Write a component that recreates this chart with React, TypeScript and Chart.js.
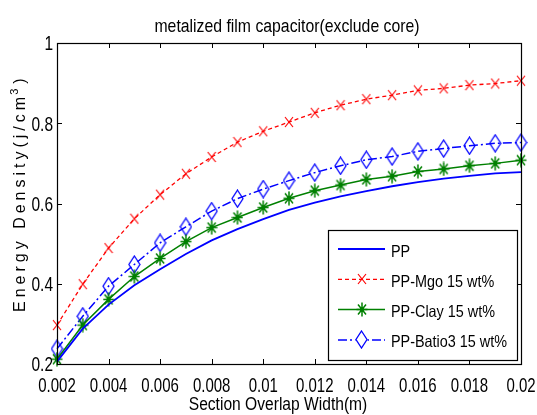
import { useEffect, useRef } from 'react';
import { Chart, registerables } from 'chart.js';

Chart.register(...registerables);

// Section overlap width (m) at which each configuration was evaluated
const overlapWidth = [
  0.002, 0.003, 0.004, 0.005, 0.006, 0.007, 0.008, 0.009, 0.01, 0.011,
  0.012, 0.013, 0.014, 0.015, 0.016, 0.017, 0.018, 0.019, 0.02,
];

// Energy density (J/cm^3) per film material
const ppDensity = [
  0.206, 0.288, 0.348, 0.396, 0.436, 0.474, 0.508, 0.536, 0.561, 0.584,
  0.602, 0.618, 0.631, 0.643, 0.653, 0.662, 0.669, 0.675, 0.678,
];
const mgoDensity = [
  0.297, 0.399, 0.489, 0.562, 0.622, 0.674, 0.716, 0.753, 0.78, 0.803,
  0.826, 0.845, 0.86, 0.87, 0.882, 0.887, 0.895, 0.899, 0.906,
];
const clayDensity = [
  0.212, 0.297, 0.361, 0.418, 0.463, 0.505, 0.54, 0.565, 0.59, 0.613,
  0.632, 0.646, 0.66, 0.668, 0.68, 0.686, 0.694, 0.7, 0.708,
];
const batioDensity = [
  0.238, 0.319, 0.394, 0.448, 0.502, 0.542, 0.581, 0.612, 0.636, 0.657,
  0.677, 0.694, 0.709, 0.717, 0.73, 0.737, 0.744, 0.75, 0.752,
];

const seriesLabels = ['PP', 'PP-Mgo 15 wt%', 'PP-Clay 15 wt%', 'PP-Batio3 15 wt%'];

const xTickValues = [0.002, 0.004, 0.006, 0.008, 0.01, 0.012, 0.014, 0.016, 0.018, 0.02];
const yTickValues = [0.2, 0.4, 0.6, 0.8, 1];

const chartTitle = 'metalized film capacitor(exclude core)';
const xAxisTitle = 'Section Overlap Width(m)';
const yAxisTitleMain = 'Energy Density(j/cm';
const yAxisTitleSup = '3';
const yAxisTitleEnd = ')';

const FONT = '"Liberation Sans", Arial, sans-serif';

const BLUE = '#0000ff';
const RED = '#ff0000';
const GREEN = '#008000';

const fmt = (v: number | string) => String(parseFloat(Number(v).toFixed(4)));

// Text drawn with a vertical stretch so the glyphs come out tall and narrow
function tallText(
  ctx: CanvasRenderingContext2D,
  text: string,
  x: number,
  baseline: number,
  size: number,
  sy: number,
  align: CanvasTextAlign,
) {
  ctx.save();
  ctx.translate(x, baseline);
  ctx.scale(1, sy);
  ctx.font = `${size}px ${FONT}`;
  ctx.textAlign = align;
  ctx.textBaseline = 'alphabetic';
  ctx.fillStyle = '#000';
  ctx.fillText(text, 0, 0);
  ctx.restore();
}

function makeDiamond(color: string) {
  const c = document.createElement('canvas');
  c.width = 13;
  c.height = 19;
  const ctx = c.getContext('2d')!;
  ctx.strokeStyle = color;
  ctx.lineWidth = 1.3;
  ctx.beginPath();
  ctx.moveTo(6.5, 1);
  ctx.lineTo(12, 9.5);
  ctx.lineTo(6.5, 18);
  ctx.lineTo(1, 9.5);
  ctx.closePath();
  ctx.stroke();
  return c;
}

function makeCross(color: string) {
  const c = document.createElement('canvas');
  c.width = 10;
  c.height = 12;
  const ctx = c.getContext('2d')!;
  ctx.strokeStyle = color;
  ctx.lineWidth = 1.2;
  ctx.beginPath();
  ctx.moveTo(1, 1);
  ctx.lineTo(9, 11);
  ctx.moveTo(9, 1);
  ctx.lineTo(1, 11);
  ctx.stroke();
  return c;
}

function makeStar(color: string) {
  const c = document.createElement('canvas');
  c.width = 12;
  c.height = 15;
  const ctx = c.getContext('2d')!;
  ctx.strokeStyle = color;
  ctx.lineWidth = 1.5;
  ctx.beginPath();
  ctx.moveTo(6, 0.5);
  ctx.lineTo(6, 14.5);
  ctx.moveTo(0.5, 7.5);
  ctx.lineTo(11.5, 7.5);
  ctx.moveTo(2, 2.5);
  ctx.lineTo(10, 12.5);
  ctx.moveTo(10, 2.5);
  ctx.lineTo(2, 12.5);
  ctx.stroke();
  ctx.fillStyle = color;
  ctx.beginPath();
  ctx.arc(6, 7.5, 2.2, 0, Math.PI * 2);
  ctx.fill();
  return c;
}

// Axes box with inward tick marks on all four sides, plus the tick labels
const framePlugin = {
  id: 'frameTicks',
  afterDatasetsDraw(chart: any) {
    const { ctx, chartArea: a, scales } = chart;
    const len = 5;
    ctx.save();
    ctx.strokeStyle = '#000';
    ctx.lineWidth = 1;
    ctx.beginPath();
    for (const t of scales.x.ticks) {
      const px = Math.round(scales.x.getPixelForValue(t.value)) + 0.5;
      ctx.moveTo(px, a.bottom);
      ctx.lineTo(px, a.bottom - len);
      ctx.moveTo(px, a.top);
      ctx.lineTo(px, a.top + len);
    }
    for (const t of scales.y.ticks) {
      const py = Math.round(scales.y.getPixelForValue(t.value)) + 0.5;
      ctx.moveTo(a.left, py);
      ctx.lineTo(a.left + len, py);
      ctx.moveTo(a.right, py);
      ctx.lineTo(a.right - len, py);
    }
    ctx.stroke();
    ctx.lineWidth = 1.2;
    ctx.strokeRect(Math.round(a.left) + 0.5, Math.round(a.top) + 0.5, Math.round(a.right - a.left), Math.round(a.bottom - a.top));
    ctx.restore();

    for (const t of scales.x.ticks) {
      tallText(ctx, fmt(t.value), scales.x.getPixelForValue(t.value), a.bottom + 27.5, 15, 1.35, 'center');
    }
    for (const t of scales.y.ticks) {
      tallText(ctx, fmt(t.value), a.left - 4, scales.y.getPixelForValue(t.value) + 7.3, 15.5, 1.35, 'right');
    }
  },
};

// Legend box in the lower right of the axes, line sample with marker
const legendPlugin = {
  id: 'boxLegend',
  afterDatasetsDraw(chart: any) {
    const { ctx, chartArea: a } = chart;
    const w = 189;
    const h = 130;
    const right = a.right - 4;
    const bottom = a.bottom - 4;
    const left = right - w;
    const top = bottom - h;
    ctx.save();
    ctx.fillStyle = '#fff';
    ctx.fillRect(left, top, w, h);
    ctx.strokeStyle = '#000';
    ctx.lineWidth = 1.2;
    ctx.strokeRect(Math.round(left) + 0.5, Math.round(top) + 0.5, w, h);
    chart.data.datasets.forEach((ds: any, i: number) => {
      const y = top + 19 + i * 30.3;
      const x0 = left + 10;
      const x1 = left + 57;
      ctx.save();
      ctx.strokeStyle = ds.borderColor;
      ctx.lineWidth = ds.borderWidth;
      ctx.setLineDash(ds.borderDash || []);
      ctx.beginPath();
      ctx.moveTo(x0, y);
      ctx.lineTo(x1, y);
      ctx.stroke();
      ctx.restore();
      const marker = ds.pointStyle;
      if (marker && typeof marker === 'object') {
        const mx = (x0 + x1) / 2;
        if (ds.label === seriesLabels[3]) {
          ctx.fillStyle = '#fff';
          ctx.fillRect(mx - 6, y - 9, 12, 18);
        }
        ctx.drawImage(marker, Math.round(mx - marker.width / 2), Math.round(y - marker.height / 2));
      }
      tallText(ctx, ds.label, left + 63, y + 7.5, 14.4, 1.16, 'left');
    });
    ctx.restore();
  },
};

// Figure title and axis labels
const textPlugin = {
  id: 'figureText',
  afterDraw(chart: any) {
    const { ctx, chartArea: a } = chart;
    const cx = (a.left + a.right) / 2;
    tallText(ctx, chartTitle, cx - 2, 32, 15.8, 1.21, 'center');
    tallText(ctx, xAxisTitle, cx - 11, 410, 15.6, 1.2, 'center');

    ctx.save();
    ctx.fillStyle = '#000';
    ctx.translate(24.5, 312);
    ctx.rotate(-Math.PI / 2);
    ctx.textAlign = 'left';
    ctx.textBaseline = 'alphabetic';
    (ctx as any).letterSpacing = '4px';
    ctx.font = `16px ${FONT}`;
    ctx.fillText(yAxisTitleMain, 0, 0);
    let x = ctx.measureText(yAxisTitleMain).width;
    ctx.font = `11px ${FONT}`;
    ctx.fillText(yAxisTitleSup, x - 2, -6.5);
    x += ctx.measureText(yAxisTitleSup).width - 1;
    ctx.font = `16px ${FONT}`;
    ctx.fillText(yAxisTitleEnd, x, 0);
    ctx.restore();
  },
};

export default function App() {
  const canvasRef = useRef<HTMLCanvasElement | null>(null);

  useEffect(() => {
    if (!canvasRef.current) return;
    const toPoints = (ys: number[]) => overlapWidth.map((x, i) => ({ x, y: ys[i] }));

    const chart = new Chart(canvasRef.current, {
      type: 'line',
      data: {
        datasets: [
          {
            label: seriesLabels[0],
            data: toPoints(ppDensity),
            borderColor: BLUE,
            borderWidth: 1.8,
            pointRadius: 0,
            tension: 0,
            clip: false,
          },
          {
            label: seriesLabels[1],
            data: toPoints(mgoDensity),
            borderColor: RED,
            borderWidth: 1.3,
            borderDash: [4, 3],
            pointStyle: makeCross(RED),
            pointRadius: 5,
            tension: 0,
            clip: false,
          },
          {
            label: seriesLabels[2],
            data: toPoints(clayDensity),
            borderColor: GREEN,
            borderWidth: 1.5,
            pointStyle: makeStar(GREEN),
            pointRadius: 5,
            tension: 0,
            clip: false,
          },
          {
            label: seriesLabels[3],
            data: toPoints(batioDensity),
            borderColor: BLUE,
            borderWidth: 1.5,
            borderDash: [9, 3, 2, 3],
            pointStyle: makeDiamond(BLUE),
            pointRadius: 6,
            tension: 0,
            clip: false,
          },
        ] as any,
      },
      options: {
        animation: false,
        responsive: false,
        devicePixelRatio: 1,
        layout: { padding: { top: 43, right: 16, left: 0, bottom: 0 } },
        plugins: {
          legend: { display: false },
          title: { display: false },
          tooltip: { enabled: false },
        },
        scales: {
          x: {
            type: 'linear',
            min: 0.002,
            max: 0.02,
            grid: { display: false, drawTicks: false },
            border: { display: false },
            ticks: { display: false },
            afterBuildTicks: (s: any) => {
              s.ticks = xTickValues.map((value) => ({ value }));
            },
            afterFit: (s: any) => {
              s.height = 51;
            },
          },
          y: {
            type: 'linear',
            min: 0.2,
            max: 1,
            grid: { display: false, drawTicks: false },
            border: { display: false },
            ticks: { display: false },
            afterBuildTicks: (s: any) => {
              s.ticks = yTickValues.map((value) => ({ value }));
            },
            afterFit: (s: any) => {
              s.width = 57;
            },
          },
        },
      } as any,
      plugins: [framePlugin, legendPlugin, textPlugin],
    });

    return () => chart.destroy();
  }, []);

  return (
    <div style={{ position: 'absolute', left: 0, top: 0, width: 537, height: 415, background: '#fff' }}>
      <canvas ref={canvasRef} width={537} height={415} style={{ width: 537, height: 415, display: 'block' }} />
    </div>
  );
}
